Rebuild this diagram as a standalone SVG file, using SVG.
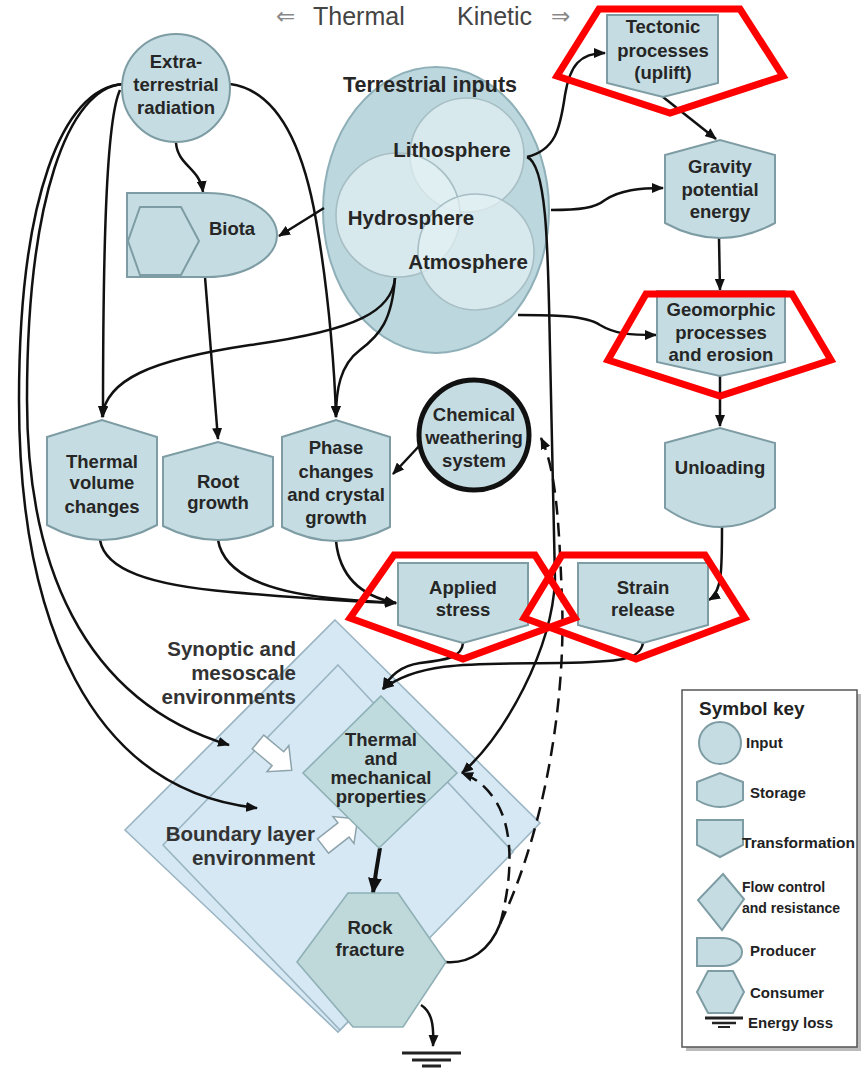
<svg xmlns="http://www.w3.org/2000/svg" width="861" height="1068" viewBox="0 0 861 1068">
<style>
.node{fill:#c5dde2;stroke:#7e9ca4;stroke-width:2}
.env{fill:#d5e8f4;stroke:#9bb5c3;stroke-width:1.6}
.lbl{font-family:"Liberation Sans",Arial,sans-serif;font-weight:bold;font-size:18.5px;fill:#262626;text-anchor:middle}
.big{font-size:20.5px}
.envt{font-family:"Liberation Sans",Arial,sans-serif;font-weight:bold;font-size:20.5px;fill:#333;text-anchor:end}
.key{font-family:"Liberation Sans",Arial,sans-serif;font-weight:bold;font-size:15px;fill:#222}
.conn{fill:none;stroke:#111;stroke-width:2.5}
.dash{fill:none;stroke:#111;stroke-width:2.5;stroke-dasharray:14 8}
.red{fill:none;stroke:#ff0000;stroke-width:7}
.sph{fill:#e4f1f3;fill-opacity:0.7;stroke:#a6bec4;stroke-width:1.6}
.blk{fill:#fff;stroke:#8ea3ab;stroke-width:1.5}
.hdr{font-family:"Liberation Sans",Arial,sans-serif;font-size:25px;fill:#444}
.hda{font-family:"DejaVu Sans",sans-serif;font-size:23px;fill:#888}
</style>
<defs>
<marker id="ah" viewBox="0 0 12 10" refX="11" refY="5" markerWidth="12" markerHeight="10" markerUnits="userSpaceOnUse" orient="auto"><path d="M0,0 L12,5 L0,10 z" fill="#111"/></marker>
<marker id="ahb" viewBox="0 0 16 14" refX="15" refY="7" markerWidth="16" markerHeight="14" markerUnits="userSpaceOnUse" orient="auto"><path d="M0,0 L16,7 L0,14 z" fill="#111"/></marker>
</defs>
<rect width="861" height="1068" fill="#fff"/>

<g id="header">
<text class="hda" x="276" y="24">⇐</text>
<text class="hdr" x="313" y="25">Thermal</text>
<text class="hdr" x="457" y="25">Kinetic</text>
<text class="hda" x="551" y="24">⇒</text>
</g>

<g id="synoptic-env">
<polygon class="env" points="335,620 540,823 338,1032 125,830"/>
<text class="envt" x="296" y="656">Synoptic and</text>
<text class="envt" x="296" y="680">mesoscale</text>
<text class="envt" x="296" y="704">environments</text>
</g>
<g id="boundary-env">
<polygon class="env" points="338,665 513,852 340,1030 163,845"/>
<text class="envt" x="315" y="841">Boundary layer</text>
<text class="envt" x="315" y="865">environment</text>
</g>

<g id="terrestrial-inputs">
<ellipse cx="436" cy="210" rx="113" ry="143" fill="#bcd7dd" stroke="#8fb0b8" stroke-width="2"/>
<circle class="sph" cx="467" cy="155" r="57"/>
<circle class="sph" cx="398" cy="215" r="62"/>
<circle class="sph" cx="476" cy="252" r="58"/>
<text class="lbl" x="430" y="92" style="font-size:21.5px">Terrestrial inputs</text>
<text class="lbl big" x="452" y="157">Lithosphere</text>
<text class="lbl big" x="411" y="225">Hydrosphere</text>
<text class="lbl big" x="468" y="269">Atmosphere</text>
</g>

<g id="connectors">
<path class="conn" marker-end="url(#ah)" d="M176,143 C178,166 200,168 203,192"/>
<path class="conn" marker-end="url(#ah)" d="M324,208 L279,236"/>
<path class="conn" marker-end="url(#ah)" d="M120,90 C106,120 103,250 103,417"/>
<path class="conn" marker-end="url(#ah)" d="M230,84 C275,90 302,140 316,220 C330,300 335,380 336,417"/>
<path class="conn" marker-end="url(#ah)" d="M395,278 C392,310 360,330 250,345 C150,360 106,380 102,417"/>
<path class="conn" marker-end="url(#ah)" d="M395,278 C392,320 380,335 360,350 C340,365 336,390 336,417"/>
<path class="conn" marker-end="url(#ah)" d="M205,277 L218,439"/>
<path class="conn" marker-end="url(#ah)" d="M123,84 C68,88 27,200 27,400 C27,560 80,700 229,745"/>
<path class="conn" marker-end="url(#ah)" d="M123,84 C62,88 19,200 19,400 C19,620 90,790 257,808"/>
<path class="conn" marker-end="url(#ah)" d="M100,540 C105,570 150,585 230,592 C300,598 350,602 396,603"/>
<path class="conn" marker-end="url(#ah)" d="M218,540 C224,575 270,592 330,598 C360,601 380,602 396,603"/>
<path class="conn" marker-end="url(#ah)" d="M336,541 C340,580 365,597 396,603"/>
<path class="conn" marker-end="url(#ah)" d="M421,444 L393,474"/>
<path class="conn" marker-end="url(#ah)" d="M527,157 C555,150 560,130 565,95 C570,65 580,53 605,53"/>
<path class="conn" marker-end="url(#ah)" d="M551,210 C580,210 595,208 605,200 C620,190 640,188 663,188"/>
<path class="conn" marker-end="url(#ah)" d="M663,97 L716,139"/>
<path class="conn" marker-end="url(#ah)" d="M719,238 L720,290"/>
<path class="conn" marker-end="url(#ah)" d="M518,315 C550,315 585,315 600,325 C615,334 630,335 656,335"/>
<path class="conn" marker-end="url(#ah)" d="M720,376 L720,426"/>
<path class="conn" marker-end="url(#ah)" d="M722,527 C722,570 722,592 709,600"/>
<path class="conn" marker-end="url(#ah)" d="M527,157 C548,165 548,260 550,350 L555,580 C552,650 505,735 462,773"/>
<path class="conn" marker-end="url(#ah)" d="M463,643 C462,658 445,660 420,663 C400,666 390,676 383,689"/>
<path class="conn" marker-end="url(#ah)" d="M643,643 C640,660 620,662 560,663 C480,664 420,660 383,689"/>
<path class="conn" style="stroke-width:4" marker-end="url(#ahb)" d="M380,848 C377,865 375,878 373,893"/>
<path class="conn" d="M446,962 C470,964 490,950 500,924"/>
<path class="dash" marker-end="url(#ah)" d="M500,924 C545,830 566,700 562,600 C559,520 556,470 541,438"/>
<path class="dash" marker-end="url(#ah)" d="M500,924 C512,880 515,830 495,800 C485,785 475,778 462,773"/>
<path class="conn" marker-end="url(#ah)" d="M421,1005 C432,1012 434,1025 433,1046"/>
</g>

<g id="block-arrows">
<path class="blk" d="M0,-9 L26,-9 L26,-17 L44,0 L26,17 L26,9 L0,9 Z" transform="translate(258,742) rotate(40)"/>
<path class="blk" d="M0,-9 L26,-9 L26,-17 L44,0 L26,17 L26,9 L0,9 Z" transform="translate(323,846) rotate(-38)"/>
</g>

<g id="extraterrestrial">
<circle class="node" cx="176" cy="88" r="54"/>
<text class="lbl" x="176" y="68">Extra-</text>
<text class="lbl" x="176" y="91">terrestrial</text>
<text class="lbl" x="176" y="114">radiation</text>
</g>
<g id="biota">
<path class="node" d="M127,193 L207,193 A70,42 0 0 1 207,277 L127,277 Z"/>
<polygon class="node" points="140,207 181,207 199,241 181,275 140,275 128,241"/>
<text class="lbl" x="232" y="235">Biota</text>
</g>
<g id="tectonic">
<path class="node" d="M607,15 L718,15 L718,83 L663,97 L607,83 Z"/>
<text class="lbl" x="663" y="33">Tectonic</text>
<text class="lbl" x="663" y="57">processes</text>
<text class="lbl" x="663" y="79">(uplift)</text>
</g>
<g id="gravity">
<path class="node" d="M665,155 L720,140 L775,155 L775,223 Q720,253 665,223 Z"/>
<text class="lbl" x="720" y="173">Gravity</text>
<text class="lbl" x="720" y="196">potential</text>
<text class="lbl" x="720" y="218">energy</text>
</g>
<g id="geomorphic">
<path class="node" d="M657,291 L785,291 L785,362 L720,376 L657,362 Z"/>
<text class="lbl" x="721" y="316">Geomorphic</text>
<text class="lbl" x="721" y="339">processes</text>
<text class="lbl" x="721" y="361">and erosion</text>
</g>
<g id="unloading">
<path class="node" d="M665,443 L720,428 L775,443 L775,508 Q720,546 665,508 Z"/>
<text class="lbl" x="720" y="474">Unloading</text>
</g>
<g id="thermal-volume">
<path class="node" d="M47,437 L102,420 L157,437 L157,525 Q102,555 47,525 Z"/>
<text class="lbl" x="102" y="468">Thermal</text>
<text class="lbl" x="102" y="489">volume</text>
<text class="lbl" x="102" y="513">changes</text>
</g>
<g id="root-growth">
<path class="node" d="M163,457 L218,442 L273,457 L273,526 Q218,554 163,526 Z"/>
<text class="lbl" x="218" y="488">Root</text>
<text class="lbl" x="218" y="509">growth</text>
</g>
<g id="phase-changes">
<path class="node" d="M282,437 L336,420 L390,437 L390,527 Q336,555 282,527 Z"/>
<text class="lbl" x="336" y="454">Phase</text>
<text class="lbl" x="336" y="478">changes</text>
<text class="lbl" x="336" y="501">and crystal</text>
<text class="lbl" x="336" y="524">growth</text>
</g>
<g id="chemical-weathering">
<circle cx="474" cy="435" r="55" fill="#c5dde2" stroke="#111" stroke-width="5"/>
<text class="lbl" x="474" y="421">Chemical</text>
<text class="lbl" x="474" y="444">weathering</text>
<text class="lbl" x="474" y="467">system</text>
</g>
<g id="applied-stress">
<path class="node" d="M398,563 L528,563 L528,625 L463,643 L398,625 Z"/>
<text class="lbl" x="463" y="594">Applied</text>
<text class="lbl" x="463" y="616">stress</text>
</g>
<g id="strain-release">
<path class="node" d="M578,563 L708,563 L708,625 L643,643 L578,625 Z"/>
<text class="lbl" x="643" y="594">Strain</text>
<text class="lbl" x="643" y="616">release</text>
</g>
<g id="thermal-mechanical">
<polygon points="381,696 457,773 379,848 303,773" fill="#bfdbdd" stroke="#8fb0b6" stroke-width="1.6"/>
<text class="lbl" x="381" y="746">Thermal</text>
<text class="lbl" x="381" y="765">and</text>
<text class="lbl" x="381" y="784">mechanical</text>
<text class="lbl" x="381" y="803">properties</text>
</g>
<g id="rock-fracture">
<polygon points="348,893 398,893 446,962 403,1027 353,1027 297,962" fill="#bfd9db" stroke="#8fb0b6" stroke-width="1.6"/>
<text class="lbl" x="370" y="934">Rock</text>
<text class="lbl" x="370" y="956">fracture</text>
</g>
<g id="energy-loss">
<line x1="402" y1="1053" x2="461" y2="1053" stroke="#222" stroke-width="3"/>
<line x1="412" y1="1060" x2="451" y2="1060" stroke="#222" stroke-width="3"/>
<line x1="422" y1="1066" x2="441" y2="1066" stroke="#222" stroke-width="3"/>
</g>

<g id="symbol-key">
<rect x="686" y="694" width="175" height="357" fill="#bbb"/>
<rect x="682" y="690" width="175" height="357" fill="#fff" stroke="#555" stroke-width="1.5"/>
<text class="key" x="699" y="715" style="font-size:19px">Symbol key</text>
<circle class="node" cx="720" cy="743" r="21"/>
<text class="key" x="746" y="748">Input</text>
<path class="node" d="M697,782 L720,773 L743,782 L743,800 Q720,814 697,800 Z"/>
<text class="key" x="750" y="798">Storage</text>
<path class="node" d="M697,820 L743,820 L743,845 L720,857 L697,845 Z"/>
<text class="key" x="742" y="848" style="font-size:14px" textLength="113" lengthAdjust="spacingAndGlyphs">Transformation</text>
<polygon class="node" points="723,874 744,899 722,930 698,900"/>
<text class="key" x="742" y="892" style="font-size:14px">Flow control</text>
<text class="key" x="742" y="913" style="font-size:14px">and resistance</text>
<path class="node" d="M697,938 L722,938 A20,14 0 0 1 722,966 L697,966 Z"/>
<text class="key" x="750" y="956">Producer</text>
<polygon class="node" points="708,971 733,971 744,992 733,1013 708,1013 697,992"/>
<text class="key" x="750" y="998">Consumer</text>
<line x1="705" y1="1018" x2="743" y2="1018" stroke="#222" stroke-width="3"/>
<line x1="712" y1="1023" x2="736" y2="1023" stroke="#222" stroke-width="2.5"/>
<line x1="718" y1="1027" x2="730" y2="1027" stroke="#222" stroke-width="2"/>
<text class="key" x="748" y="1028">Energy loss</text>
</g>

<g id="highlights">
<polygon class="red" points="599,9 740,9 783,76 670,113 557,76"/>
<polygon class="red" points="646,294 792,294 831,360 720,396 608,360"/>
<polygon class="red" points="394,555 535,555 575,618 463,659 350,618"/>
<polygon class="red" points="562,555 705,555 745,618 636,659 524,618"/>
</g>
</svg>
